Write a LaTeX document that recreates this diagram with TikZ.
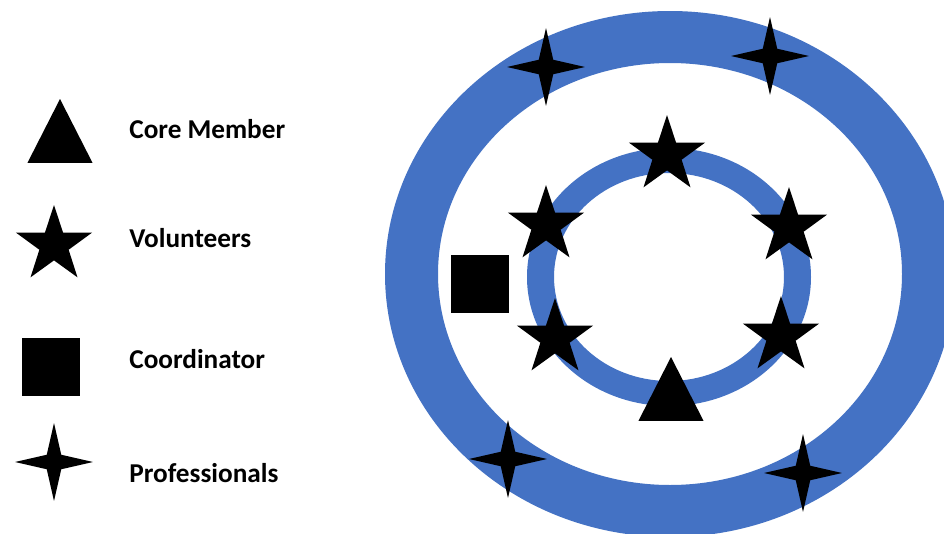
\documentclass[tikz,border=0pt]{standalone}
\usepackage{fontspec}
\setmainfont{Carlito}
\usepackage{tikz}
\usetikzlibrary{shapes.geometric}
\definecolor{ringblue}{HTML}{4472C4}

\begin{document}
\begin{tikzpicture}[x=0.02cm, y=-0.02cm,
  vol/.style={star, star points=5, star point ratio=2.6, fill=black,
    inner sep=0pt, outer sep=0pt, minimum size=16mm},
  pro/.style={star, star points=4, star point ratio=3.8, fill=black,
    inner sep=0pt, outer sep=0pt, minimum size=15.6mm},
  core/.style={isosceles triangle, isosceles triangle apex angle=54,
    shape border rotate=90, fill=black, inner sep=0pt, outer sep=0pt,
    minimum width=12.8mm, minimum height=12.8mm, anchor=apex},
  coord/.style={rectangle, fill=black, inner sep=0pt, minimum size=11.8mm},
  lbl/.style={anchor=base west, inner sep=0pt,
    font=\fontsize{15.5}{18}\selectfont\bfseries}
]
  \useasboundingbox (0,0) rectangle (944,534);
  \fill[white] (0,0) rectangle (944,534);

  % the two rings
  \begin{scope}
    \clip (0,0) rectangle (944,534);
    \fill[ringblue, even odd rule]
      (670,274) ellipse [x radius=285, y radius=263]
      (670,274) ellipse [x radius=232, y radius=211];
    \fill[ringblue, even odd rule]
      (669,277) ellipse [x radius=142, y radius=129]
      (669,277) ellipse [x radius=115, y radius=104];
  \end{scope}

  % legend
  \node[core] (legcore) at (60,99) {};
  \node[vol] (legvol) at (54,245) {};
  \node[coord] (legcoord) at (51,367) {};
  \node[pro] (legpro) at (54,462) {};

  \node[lbl] (tcore) at (129,138) {Core Member};
  \node[lbl] (tvol) at (129,247) {Volunteers};
  \node[lbl] (tcoord) at (129,368) {Coordinator};
  \node[lbl] (tpro) at (129,482) {Professionals};

  % inner ring
  \node[vol] (vtop) at (667,155) {};
  \node[vol] (vul) at (546,225) {};
  \node[vol] (vur) at (789,227) {};
  \node[vol] (vll) at (555,338) {};
  \node[vol] (vlr) at (781,336) {};
  \node[core] (core) at (671,357) {};
  \node[coord] (coord) at (480,284) {};

  % outer ring
  \node[pro] (ptl) at (546,67) {};
  \node[pro] (ptr) at (770,56) {};
  \node[pro] (pbl) at (508,459) {};
  \node[pro] (pbr) at (803,473) {};
\end{tikzpicture}
\end{document}
